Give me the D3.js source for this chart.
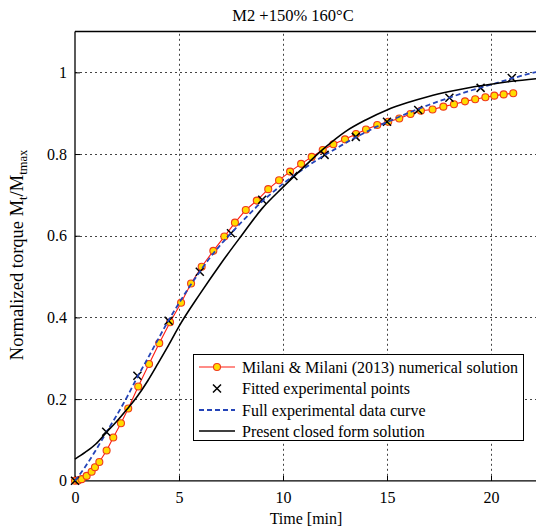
<!DOCTYPE html>
<html>
<head>
<meta charset="utf-8">
<script src="https://cdn.jsdelivr.net/npm/d3@7"></script>
<style>
  body { margin: 0; background: #fff; }
  svg { font-family: "Liberation Serif", "Times New Roman", serif; }
</style>
</head>
<body>
<div id="chart"></div>
<script>
// Milani & Milani (2013) numerical solution
var numTime = [0, 0.15, 0.32, 0.56, 0.8, 0.96, 1.17, 1.52, 1.84, 2.21, 2.56, 3.04, 3.56, 4.05, 4.57, 5.10, 5.58, 6.09, 6.65, 7.18, 7.69, 8.21, 8.74, 9.29, 9.81, 10.34, 10.87, 11.38, 11.91, 12.42, 12.98, 13.51, 13.99, 14.53, 15.06, 15.59, 16.13, 16.63, 17.19, 17.71, 18.22, 18.75, 19.24, 19.73, 20.16, 20.61, 21.07];
var numTorque = [0, 0.001, 0.004, 0.012, 0.022, 0.033, 0.046, 0.074, 0.106, 0.141, 0.177, 0.231, 0.286, 0.337, 0.388, 0.436, 0.483, 0.524, 0.563, 0.598, 0.632, 0.663, 0.686, 0.714, 0.736, 0.757, 0.776, 0.793, 0.810, 0.824, 0.836, 0.849, 0.860, 0.871, 0.879, 0.887, 0.898, 0.906, 0.909, 0.916, 0.922, 0.929, 0.934, 0.939, 0.943, 0.946, 0.949];

// fitted experimental points
var fitTime = [0, 1.5, 3, 4.5, 6, 7.5, 9, 10.5, 12, 13.5, 15, 16.5, 18, 19.5, 21];
var fitTorque = [0, 0.120, 0.257, 0.392, 0.512, 0.606, 0.688, 0.746, 0.798, 0.842, 0.879, 0.908, 0.938, 0.962, 0.986];

// full experimental data curve
var expTime = [0, 0.5, 1, 1.5, 2, 2.5, 3, 3.5, 4, 4.5, 5, 5.5, 6, 6.5, 7, 7.5, 8, 8.5, 9, 9.5, 10, 10.5, 11, 11.5, 12, 12.5, 13, 13.5, 14, 14.5, 15, 16, 17, 18, 19, 20, 21, 22.5];
var expTorque = [0, 0.035, 0.075, 0.118, 0.160, 0.205, 0.254, 0.300, 0.347, 0.393, 0.435, 0.475, 0.512, 0.547, 0.578, 0.606, 0.633, 0.659, 0.684, 0.706, 0.727, 0.746, 0.764, 0.781, 0.797, 0.812, 0.827, 0.841, 0.854, 0.867, 0.878, 0.900, 0.920, 0.938, 0.955, 0.970, 0.985, 1.005];

// present closed form solution
var modelTime = [0, 0.5, 1, 1.5, 2, 2.5, 3, 3.5, 4, 4.5, 5, 6, 7, 8, 9, 10, 11, 12, 13, 14, 15, 16, 17, 18, 19, 20, 21, 22.5];
var modelTorque = [0.053, 0.070, 0.090, 0.118, 0.145, 0.175, 0.207, 0.245, 0.288, 0.332, 0.378, 0.457, 0.531, 0.600, 0.667, 0.719, 0.768, 0.815, 0.855, 0.884, 0.908, 0.926, 0.941, 0.953, 0.963, 0.971, 0.978, 0.986];

var xTicks = [0, 5, 10, 15, 20];
var yTicks = [0, 0.2, 0.4, 0.6, 0.8, 1];

var W = 536, H = 531;
var plotLeft = 75, plotTop = 31.5, plotBottom = 480.8;

var x = d3.scaleLinear().domain([0, 22.5]).range([plotLeft, plotLeft + 20.8 * 22.5]);
var y = d3.scaleLinear().domain([0, 1.1]).range([plotBottom, plotTop]);

var svg = d3.select("#chart").append("svg")
    .attr("width", W)
    .attr("height", H)
    .style("overflow", "hidden");

// dotted grid
var grid = svg.append("g").attr("stroke", "#444").attr("stroke-width", 1)
    .attr("stroke-dasharray", "2,3");
grid.selectAll(".gx").data(xTicks.filter(function (d) { return d > 0; }))
    .enter().append("line")
    .attr("x1", function (d) { return Math.round(x(d)) + 0.5; })
    .attr("x2", function (d) { return Math.round(x(d)) + 0.5; })
    .attr("y1", y(0)).attr("y2", y(1.1));
grid.selectAll(".gy").data(yTicks.filter(function (d) { return d > 0; }))
    .enter().append("line")
    .attr("y1", function (d) { return Math.round(y(d)) + 0.5; })
    .attr("y2", function (d) { return Math.round(y(d)) + 0.5; })
    .attr("x1", x(0)).attr("x2", W + 10);

// axes, ticks inward
var xAxis = svg.append("g")
    .attr("transform", "translate(0," + y(0) + ")")
    .call(d3.axisBottom(x).tickValues(xTicks).tickSize(-5).tickPadding(11)
        .tickFormat(d3.format("d")));
var yAxis = svg.append("g")
    .attr("transform", "translate(" + x(0) + ",0)")
    .call(d3.axisLeft(y).tickValues(yTicks).tickSize(-5).tickPadding(8)
        .tickFormat(function (d) { return d === 0 || d === 1 ? d3.format("d")(d) : d3.format(".1f")(d); }));
[xAxis, yAxis].forEach(function (a) {
    a.select(".domain").remove();
    a.selectAll("line").attr("stroke", "#000");
    a.selectAll("text").attr("fill", "#000")
        .style("font-family", "Liberation Serif, serif").style("font-size", "16px");
});

svg.append("line").attr("x1", x(0)).attr("x2", W + 10)
    .attr("y1", y(0)).attr("y2", y(0)).attr("stroke", "#000").attr("stroke-width", 1.3);
svg.append("line").attr("x1", x(0)).attr("x2", x(0))
    .attr("y1", y(0)).attr("y2", y(1.1)).attr("stroke", "#000").attr("stroke-width", 1.3);
svg.append("line").attr("x1", x(0)).attr("x2", W + 10)
    .attr("y1", y(1.1)).attr("y2", y(1.1)).attr("stroke", "#000").attr("stroke-width", 1.3);

var line = d3.line()
    .x(function (d) { return x(d[0]); })
    .y(function (d) { return y(d[1]); });

var numData = d3.zip(numTime, numTorque);
var fitData = d3.zip(fitTime, fitTorque);
var expData = d3.zip(expTime, expTorque);
var modelData = d3.zip(modelTime, modelTorque);

// numerical solution
svg.append("path").datum(numData)
    .attr("d", line)
    .attr("fill", "none").attr("stroke", "#ff1a10").attr("stroke-width", 1.1);
svg.selectAll(".num").data(numData)
    .enter().append("circle")
    .attr("cx", function (d) { return x(d[0]); })
    .attr("cy", function (d) { return y(d[1]); })
    .attr("r", 3.5)
    .attr("fill", "#ffdc00").attr("stroke", "#f03a1a").attr("stroke-width", 1.1);

// fitted points
function cross(g, cx, cy, s) {
    g.append("path")
        .attr("d", "M" + (cx - s) + "," + (cy - s) + "L" + (cx + s) + "," + (cy + s) +
            "M" + (cx - s) + "," + (cy + s) + "L" + (cx + s) + "," + (cy - s))
        .attr("stroke", "#000").attr("stroke-width", 1.5).attr("fill", "none");
}
var fitG = svg.append("g");
fitData.forEach(function (d) { cross(fitG, x(d[0]), y(d[1]), 4); });

// full experimental curve
svg.append("path").datum(expData)
    .attr("d", line.curve(d3.curveMonotoneX))
    .attr("fill", "none").attr("stroke", "#2444b8").attr("stroke-width", 1.8)
    .attr("stroke-dasharray", "5,3");

// closed form
svg.append("path").datum(modelData)
    .attr("d", line.curve(d3.curveMonotoneX))
    .attr("fill", "none").attr("stroke", "#000").attr("stroke-width", 1.6);

// title and labels
svg.append("text").attr("x", 293).attr("y", 21).attr("text-anchor", "middle")
    .style("font-size", "16.5px").text("M2 +150% 160\u00B0C");
svg.append("text").attr("x", 306).attr("y", 524).attr("text-anchor", "middle")
    .style("font-size", "16px").text("Time [min]");

var yl = svg.append("text")
    .attr("transform", "translate(23,255) rotate(-90)")
    .attr("text-anchor", "middle")
    .style("font-size", "18.5px");
yl.append("tspan").text("Normalized torque M");
yl.append("tspan").attr("dy", 4).style("font-size", "12.5px").text("t");
yl.append("tspan").attr("dy", -4).text("/M");
yl.append("tspan").attr("dy", 4).style("font-size", "12.5px").text("tmax");

// legend
var leg = svg.append("g");
leg.append("rect").attr("x", 193.5).attr("y", 354.5).attr("width", 330).attr("height", 86)
    .attr("fill", "#fff").attr("stroke", "#000").attr("stroke-width", 1);
var rows = [
    { label: "Milani & Milani (2013) numerical solution", y: 367 },
    { label: "Fitted experimental points", y: 388.5 },
    { label: "Full experimental data curve", y: 410 },
    { label: "Present closed form solution", y: 431 }
];
leg.selectAll(".lt").data(rows).enter().append("text")
    .attr("x", 242).attr("y", function (d) { return d.y + 5.5; })
    .style("font-size", "16px").text(function (d) { return d.label; });
leg.append("line").attr("x1", 199).attr("x2", 235).attr("y1", rows[0].y).attr("y2", rows[0].y)
    .attr("stroke", "#ff1a10").attr("stroke-width", 1.1);
leg.append("circle").attr("cx", 217).attr("cy", rows[0].y).attr("r", 3.5)
    .attr("fill", "#ffdc00").attr("stroke", "#f03a1a").attr("stroke-width", 1.1);
cross(leg, 217, rows[1].y, 4);
leg.append("line").attr("x1", 199).attr("x2", 235).attr("y1", rows[2].y).attr("y2", rows[2].y)
    .attr("stroke", "#2444b8").attr("stroke-width", 1.8).attr("stroke-dasharray", "5,3");
leg.append("line").attr("x1", 199).attr("x2", 235).attr("y1", rows[3].y).attr("y2", rows[3].y)
    .attr("stroke", "#000").attr("stroke-width", 1.6);
</script>
</body>
</html>
